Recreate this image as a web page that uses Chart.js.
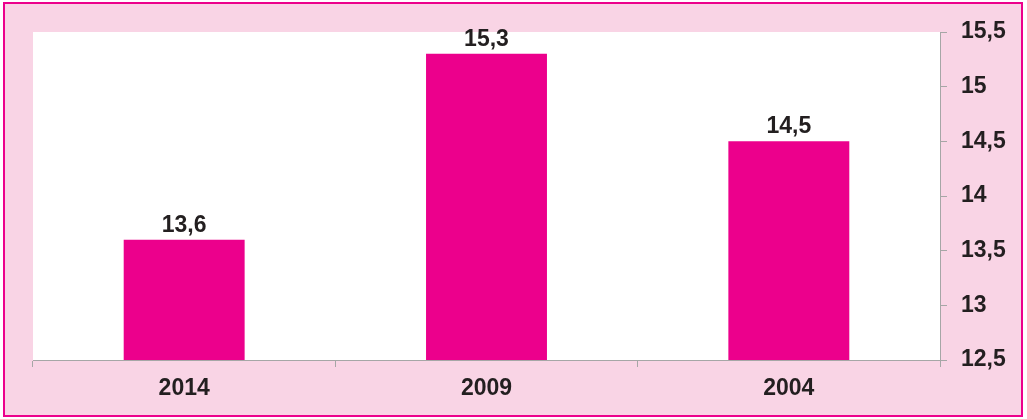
<!DOCTYPE html>
<html>
<head>
<meta charset="utf-8">
<script src="https://cdn.jsdelivr.net/npm/chart.js@4"></script>
<style>
    body { margin: 0; background: #fff; }
    #frame {
        position: absolute; left: 3px; top: 2px;
        width: 1020px; height: 415px;
        box-sizing: border-box;
        border: 2px solid #ec008c;
        background: #f9d4e5;
    }
    #wrap { position: absolute; left: 0; top: 0; width: 1027px; height: 419px; }
</style>
</head>
<body>
<div id="frame"></div>
<div id="wrap"><canvas id="barChart"></canvas></div>
<script>
const years = ['2014', '2009', '2004'];
const values = [13.6, 15.3, 14.5];
const yMin = 12.5;
const yMax = 15.5;
const yStep = 0.5;

const comma = v => String(v).replace('.', ',');
const font = { family: '"Liberation Sans", Arial, sans-serif', size: 23, weight: 'bold' };

// white plot area behind the bars
const plotBg = {
    id: 'plotBg',
    beforeDraw(chart) {
        const a = chart.chartArea;
        chart.ctx.save();
        chart.ctx.fillStyle = '#ffffff';
        chart.ctx.fillRect(a.left, a.top, a.right - a.left, a.bottom - a.top);
        chart.ctx.restore();
    }
};

// value labels on top of bars
const barLabels = {
    id: 'barLabels',
    afterDatasetsDraw(chart) {
        const ctx = chart.ctx;
        ctx.save();
        ctx.font = 'bold 23px "Liberation Sans", Arial, sans-serif';
        ctx.fillStyle = '#231f20';
        ctx.textAlign = 'center';
        ctx.textBaseline = 'bottom';
        chart.getDatasetMeta(0).data.forEach((bar, i) => {
            ctx.fillText(comma(values[i]), bar.x, bar.y - 3);
        });
        ctx.restore();
    }
};

new Chart(document.getElementById('barChart'), {
    type: 'bar',
    data: {
        labels: years,
        datasets: [{
            data: values,
            backgroundColor: '#ec008c',
            categoryPercentage: 1,
            barPercentage: 0.4
        }]
    },
    options: {
        responsive: true,
        maintainAspectRatio: false,
        animation: false,
        layout: { padding: { left: 33, top: 32, right: 0, bottom: 0 } },
        plugins: { legend: { display: false }, tooltip: { enabled: false } },
        scales: {
            x: {
                offset: true,
                grid: { offset: true, drawOnChartArea: false, color: '#a6a6a6', tickLength: 7 },
                border: { color: '#a6a6a6' },
                ticks: { color: '#231f20', font: font, padding: 8 },
                afterFit(scale) { scale.height = 59; }
            },
            y: {
                position: 'right',
                min: yMin,
                max: yMax,
                grid: { drawOnChartArea: false, color: '#a6a6a6', tickLength: 7 },
                border: { color: '#a6a6a6' },
                ticks: { stepSize: yStep, color: '#231f20', font: font, padding: 14,
                    callback: v => comma(v) },
                afterFit(scale) { scale.width = 87; }
            }
        }
    },
    plugins: [plotBg, barLabels]
});
</script>
</body>
</html>
